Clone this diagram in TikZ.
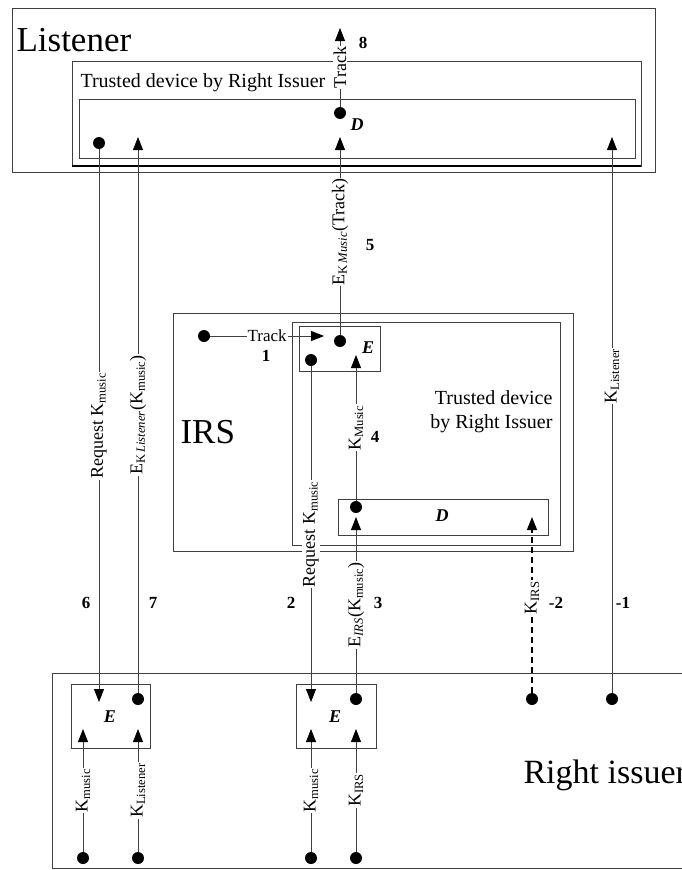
\documentclass[tikz,border=0pt]{standalone}
\usepackage{fontspec}
\setmainfont{Liberation Serif}
\usetikzlibrary{arrows.meta}
\definecolor{LineGray}{HTML}{404040}

\begin{document}
\begin{tikzpicture}[x=1pt, y=-1pt,
    frame/.style={draw=LineGray, line width=0.8pt},
    dot/.style={circle, fill=black, inner sep=0pt, minimum size=12pt},
    link/.style={draw=LineGray, line width=0.8pt, -{Triangle[width=10pt,length=13pt,color=black]}},
    keylink/.style={link, draw=black, line width=1.3pt, dash pattern=on 6pt off 4pt},
    vlabel/.style={fill=white, inner sep=1pt, rotate=90, font=\fontsize{18}{20}\selectfont},
    hlabel/.style={fill=white, inner sep=1pt, font=\fontsize{17}{20}\selectfont},
    stepnum/.style={font=\fontsize{17}{20}\selectfont\bfseries},
    unitname/.style={font=\fontsize{18}{20}\selectfont\bfseries\itshape},
    partyname/.style={font=\fontsize{35}{40}\selectfont, anchor=base west},
    devname/.style={font=\fontsize{20}{24}\selectfont}]
  \useasboundingbox (0,0) rectangle (681,870);

  % Listener
  \draw[frame] (12,8) rectangle (655,172);
  \draw[frame] (72,61) rectangle (641,166);
  \draw[black, line width=1.4pt] (72,166) -- (641,166);
  \draw[frame] (79,99) rectangle (635,158);
  \node[partyname] (listener) at (13,51) {Listener};
  \node[devname, anchor=base west] (lsdev) at (77,87) {Trusted device by Right Issuer};
  \node[unitname] (lsD) at (357,125) {D};

  % IRS
  \draw[frame] (173,313) rectangle (573,551);
  \draw[frame] (292,322) rectangle (560,545);
  \draw[frame] (299,326) rectangle (380,371);
  \draw[frame] (338,499) rectangle (548,535);
  \node[partyname] (irs) at (177,443) {IRS};
  \node[devname, anchor=base east, align=right] (irsdev) at (556,428) {Trusted device\\by Right Issuer};
  \node[unitname] (irsE) at (368,348) {E};
  \node[unitname] (irsD) at (442,516) {D};

  % Right issuer
  \draw[frame] (52,673) rectangle (720,868);
  \draw[frame] (71,684) rectangle (150,748);
  \draw[frame] (296,684) rectangle (376,748);
  \node[partyname, font=\fontsize{34}{40}\selectfont] (ri) at (520,783) {Right issuer};
  \node[unitname] (riE1) at (110,717) {E};
  \node[unitname] (riE2) at (335,717) {E};

  % dots
  \node[dot] (lsreq) at (99,143) {};
  \node[dot] (lsout) at (340,113) {};
  \node[dot] (irsin) at (204,336) {};
  \node[dot] (irsenc) at (340,341) {};
  \node[dot] (irsreq) at (311,360) {};
  \node[dot] (irsdec) at (356,507) {};
  \node[dot] (riE1out) at (138,699) {};
  \node[dot] (riE2out) at (356,699) {};
  \node[dot] (rikirs) at (532,699) {};
  \node[dot] (riklst) at (612,699) {};
  \node[dot] (inA) at (83,858) {};
  \node[dot] (inB) at (138,858) {};
  \node[dot] (inC) at (311,858) {};
  \node[dot] (inD) at (356,858) {};

  % arrow ends
  \coordinate (trackout) at (340,28);
  \coordinate (lsin5) at (340,137);
  \coordinate (lsin7) at (138,137);
  \coordinate (lsin1) at (612,137);
  \coordinate (irsin1) at (324,336);
  \coordinate (irsin4) at (356,355);
  \coordinate (irsin3) at (356,517);
  \coordinate (irsin2) at (532,517);
  \coordinate (riin6) at (99,702);
  \coordinate (riin2) at (311,702);
  \coordinate (tipA) at (83,729);
  \coordinate (tipB) at (138,729);
  \coordinate (tipC) at (311,729);
  \coordinate (tipD) at (356,729);

  % messages
  \draw[link] (lsout) -- node[vlabel]{Track} (trackout);
  \draw[link] (irsin) -- node[hlabel]{Track} (irsin1);
  \draw[link] (irsreq) -- node[vlabel]{Request K\textsubscript{music}} (riin2);
  \draw[link] (riE2out) -- node[vlabel]{E\textsubscript{\textit{IRS}}(K\textsubscript{music})} (irsin3);
  \draw[link] (irsdec) -- node[vlabel]{K\textsubscript{Music}} (irsin4);
  \draw[link] (irsenc) -- node[vlabel, pos=0.52]{E\textsubscript{K\,\textit{Music}}(Track)} (lsin5);
  \draw[link] (lsreq) -- node[vlabel]{Request K\textsubscript{music}} (riin6);
  \draw[link] (riE1out) -- node[vlabel]{E\textsubscript{K\,\textit{Listener}}(K\textsubscript{music})} (lsin7);
  \draw[link] (riklst) -- node[vlabel, pos=0.57]{K\textsubscript{Listener}} (lsin1);
  \draw[keylink] (rikirs) -- node[vlabel, pos=0.54]{K\textsubscript{IRS}} (irsin2);

  % key inputs
  \draw[link] (inA) -- node[vlabel]{K\textsubscript{music}} (tipA);
  \draw[link] (inB) -- node[vlabel]{K\textsubscript{Listener}} (tipB);
  \draw[link] (inC) -- node[vlabel]{K\textsubscript{music}} (tipC);
  \draw[link] (inD) -- node[vlabel]{K\textsubscript{IRS}} (tipD);

  % step numbers
  \node[stepnum] (n8) at (363,43) {8};
  \node[stepnum] (n1) at (266,356) {1};
  \node[stepnum] (n5) at (370,245) {5};
  \node[stepnum] (n4) at (375,437) {4};
  \node[stepnum] (n6) at (86,603) {6};
  \node[stepnum] (n7) at (153,603) {7};
  \node[stepnum] (n2) at (291,603) {2};
  \node[stepnum] (n3) at (378,603) {3};
  \node[stepnum] (nm2) at (556,603) {-2};
  \node[stepnum] (nm1) at (623,603) {-1};
\end{tikzpicture}
\end{document}
